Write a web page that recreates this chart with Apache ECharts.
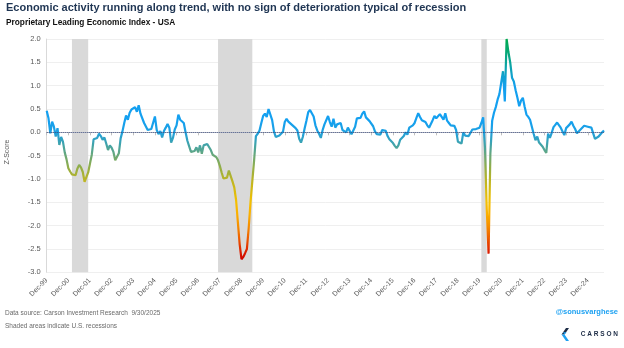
<!DOCTYPE html>
<html>
<head>
<meta charset="utf-8">
<script src="https://cdn.jsdelivr.net/npm/echarts@6/dist/echarts.min.js"></script>
<style>
  html, body { margin: 0; padding: 0; background: #ffffff; }
  #chart { width: 624px; height: 348px; }
</style>
</head>
<body>
<div id="chart"></div>
<script>
// Proprietary Leading Economic Index (USA), monthly z-scores, Dec 1999 - Sep 2025
const z1999 = [0.46];
const z2000 = [0.30, -0.02, 0.23, 0.12, -0.09, 0.09, -0.27, -0.10, -0.20, -0.43, -0.58, -0.77];
const z2001 = [-0.84, -0.90, -0.94, -0.92, -0.78, -0.70, -0.75, -0.85, -1.06, -1.05, -0.86, -0.67];
const z2002 = [-0.48, -0.15, -0.13, -0.12, -0.03, -0.08, -0.16, -0.11, -0.24, -0.38, -0.28, -0.33];
const z2003 = [-0.42, -0.60, -0.62, -0.45, -0.13, 0.02, 0.20, 0.36, 0.27, 0.42, 0.49, 0.46];
const z2004 = [0.54, 0.44, 0.58, 0.40, 0.40, 0.20, 0.17, 0.05, 0.06, 0.07, 0.11, 0.34];
const z2005 = [0.05, -0.04, 0.03, -0.11, 0.03, 0.10, 0.18, 0.10, -0.22, -0.12, 0.06, 0.15];
const z2006 = [0.38, 0.27, 0.26, 0.20, 0.00, -0.18, -0.30, -0.42, -0.38, -0.40, -0.32, -0.43];
const z2007 = [-0.28, -0.46, -0.28, -0.30, -0.25, -0.28, -0.38, -0.48, -0.52, -0.53, -0.60, -0.72];
const z2008 = [-0.86, -0.99, -1.02, -0.97, -0.82, -0.80, -1.05, -1.18, -1.45, -1.93, -2.40, -2.72];
const z2009 = [-2.67, -2.59, -2.50, -2.05, -1.50, -1.05, -0.60, -0.08, -0.03, 0.04, 0.20, 0.35];
const z2010 = [0.40, 0.33, 0.50, 0.47, 0.26, 0.02, -0.10, -0.11, -0.07, -0.06, 0.01, 0.22];
const z2011 = [0.29, 0.23, 0.26, 0.16, 0.12, 0.09, 0.04, -0.14, -0.22, -0.10, 0.08, 0.25];
const z2012 = [0.43, 0.48, 0.44, 0.34, 0.15, 0.04, -0.03, -0.12, 0.05, 0.17, 0.13, 0.35];
const z2013 = [0.22, 0.12, 0.29, 0.10, 0.17, 0.20, 0.20, 0.05, 0.07, 0.00, 0.10, 0.08];
const z2014 = [-0.04, -0.02, 0.12, 0.30, 0.33, 0.31, 0.40, 0.45, 0.32, 0.28, 0.24, 0.20];
const z2015 = [0.13, 0.02, -0.04, -0.02, -0.05, 0.05, 0.06, 0.03, -0.08, -0.15, -0.17, -0.23];
const z2016 = [-0.29, -0.34, -0.28, -0.16, -0.13, -0.08, 0.00, -0.05, 0.10, 0.13, 0.15, 0.20];
const z2017 = [0.31, 0.41, 0.33, 0.26, 0.23, 0.22, 0.15, 0.10, 0.08, 0.26, 0.35, 0.30];
const z2018 = [0.31, 0.39, 0.33, 0.27, 0.41, 0.25, 0.20, 0.15, 0.13, 0.14, 0.05, -0.20];
const z2019 = [-0.24, -0.24, 0.00, -0.07, -0.08, -0.08, -0.04, 0.06, 0.08, 0.07, 0.09, 0.10];
const z2020 = [0.20, 0.32, -0.33, -1.65, -2.60, -0.46, 0.25, 0.42, 0.54, 0.70, 0.82, 0.80];
const z2021 = [1.31, 0.66, 2.00, 1.72, 1.50, 1.17, 1.09, 0.90, 0.74, 0.56, 0.68, 0.74];
const z2022 = [0.55, 0.38, 0.33, 0.27, 0.24, -0.03, -0.17, -0.09, -0.22, -0.20, -0.31, -0.38];
const z2023 = [-0.44, -0.03, -0.12, -0.01, 0.11, 0.16, 0.21, 0.18, 0.10, 0.10, -0.06, 0.09];
const z2024 = [0.11, 0.17, 0.23, 0.14, 0.07, -0.02, 0.02, 0.06, 0.09, 0.14, 0.12, 0.12];
const z2025 = [0.12, 0.10, 0.08, -0.14, -0.16, -0.09, -0.05, 0.00, 0.04];

const yearly = [z1999, z2000, z2001, z2002, z2003, z2004, z2005, z2006, z2007, z2008,
  z2009, z2010, z2011, z2012, z2013, z2014, z2015, z2016, z2017, z2018, z2019,
  z2020, z2021, z2022, z2023, z2024, z2025];

// US recessions (first and last month shaded)
const recessions = [['Feb-01', 'Nov-01'], ['Nov-07', 'Jun-09'], ['Jan-20', 'Apr-20']];

const monthNames = ['Jan', 'Feb', 'Mar', 'Apr', 'May', 'Jun', 'Jul', 'Aug', 'Sep', 'Oct', 'Nov', 'Dec'];

// month labels: Dec-99 opens the series, then full calendar years
const months = [];
const zscore = [];
yearly.forEach(function (vals, i) {
  const year = 1999 + i;
  const first = i === 0 ? 11 : 0;
  vals.forEach(function (v, k) {
    months.push(monthNames[first + k] + '-' + String(year % 100).padStart(2, '0'));
    zscore.push(v);
  });
});

const isDec = function (idx) { return months[idx].indexOf('Dec') === 0; };

const chart = echarts.init(document.getElementById('chart'), null, { renderer: 'canvas' });
const FONT = '"Liberation Sans", Arial, sans-serif';

chart.setOption({
  animation: false,
  backgroundColor: '#ffffff',
  grid: { left: 46.7, right: 20, top: 39, bottom: 75.7, containLabel: false },
  xAxis: {
    type: 'category',
    data: months,
    boundaryGap: false,
    axisLine: { show: true, lineStyle: { color: '#d9d9d9', width: 1 } },
    axisTick: { show: true, interval: isDec, length: 3, lineStyle: { color: '#bfbfbf' } },
    axisLabel: {
      interval: isDec, rotate: 45, margin: 7,
      color: '#595959', fontSize: 7, fontFamily: FONT
    },
    splitLine: { show: false }
  },
  yAxis: {
    type: 'value',
    min: -3, max: 2, interval: 0.5,
    axisLine: { show: true, lineStyle: { color: '#d9d9d9', width: 1 } },
    axisTick: { show: false },
    axisLabel: {
      margin: 6, color: '#595959', fontSize: 7.5, fontFamily: FONT,
      formatter: function (v) { return v.toFixed(1); }
    },
    splitLine: { show: true, lineStyle: { color: '#efefef', width: 1 } }
  },
  visualMap: {
    show: false,
    type: 'continuous',
    seriesIndex: 0,
    dimension: 1,
    min: -2.75,
    max: 2.0,
    inRange: {
      color: ['#cc0000', '#e02a00', '#ee6000', '#f58f00', '#fbb000', '#f5c000', '#d8bb10',
        '#b8b428', '#92ae48', '#6aa878', '#3fa3ac', '#1ea0e0', '#14a0f0', '#14a0f0',
        '#14a0f0', '#14a0ec', '#10a2c8', '#0ca598', '#06a870', '#00aa50']
    }
  },
  series: [
    {
      type: 'line',
      name: 'Z-Score',
      data: zscore,
      showSymbol: false,
      symbol: 'none',
      lineStyle: { width: 2.2 },
      z: 4
    },
    {
      type: 'line',
      data: [],
      z: 1,
      silent: true,
      markArea: {
        silent: true,
        itemStyle: { color: '#d9d9d9' },
        data: recessions.map(function (r) { return [{ xAxis: r[0] }, { xAxis: r[1] }]; })
      },
      markLine: {
        silent: true,
        symbol: 'none',
        label: { show: false },
        lineStyle: { type: 'dotted', color: '#34457a', width: 1 },
        data: [{ yAxis: 0 }]
      }
    }
  ],
  graphic: [
    {
      type: 'text', left: 6, top: 2.5,
      style: { text: 'Economic activity running along trend, with no sign of deterioration typical of recession',
        fill: '#1f3553', font: 'bold 11px ' + FONT }
    },
    {
      type: 'text', left: 6, top: 19,
      style: { text: 'Proprietary Leading Economic Index - USA', fill: '#111111', font: 'bold 8.3px ' + FONT }
    },
    {
      type: 'text', x: 7, y: 152, rotation: Math.PI / 2,
      style: { text: 'Z-Score', fill: '#595959', font: '7px ' + FONT,
        textAlign: 'center', textVerticalAlign: 'middle', align: 'center', verticalAlign: 'middle' }
    },
    {
      type: 'text', left: 5, top: 309.5,
      style: { text: 'Data source: Carson Investment Research  9/30/2025', fill: '#6a6a6a', font: '6.5px ' + FONT }
    },
    {
      type: 'text', left: 5, top: 323,
      style: { text: 'Shaded areas indicate U.S. recessions', fill: '#6a6a6a', font: '6.5px ' + FONT }
    },
    {
      type: 'text', right: 6, top: 308,
      style: { text: '@sonusvarghese', fill: '#1da1f2', font: 'bold 7.5px ' + FONT }
    },
    {
      type: 'text', right: 6, top: 331,
      style: { text: 'C A R S O N', fill: '#1c2b45', font: 'bold 6.5px ' + FONT }
    },
    {
      type: 'polygon',
      shape: { points: [[566, 328], [569, 328], [564.5, 334.5], [561.5, 334.5]] },
      style: { fill: '#1c2b45' }
    },
    {
      type: 'polygon',
      shape: { points: [[561.5, 334.5], [564.5, 334.5], [569, 341], [566, 341]] },
      style: { fill: '#1da1f2' }
    },
    {
      type: 'polygon',
      shape: { points: [[563, 332.3], [566.5, 332.3], [564.5, 334.5]] },
      style: { fill: '#1da1f2' }
    }
  ]
});
</script>
</body>
</html>
